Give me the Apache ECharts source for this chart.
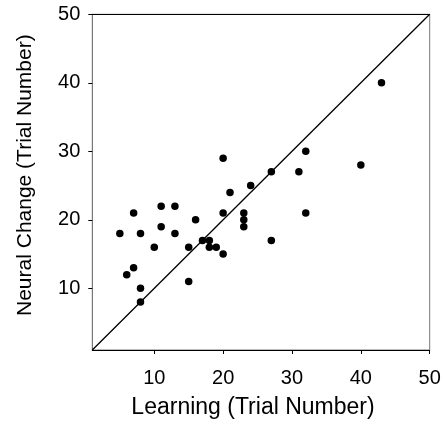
<!DOCTYPE html>
<html>
<head>
<meta charset="utf-8">
<script src="https://cdn.jsdelivr.net/npm/echarts@6/dist/echarts.min.js"></script>
<style>html,body{margin:0;padding:0;background:#fff;}#c{width:444px;height:427px;}</style>
</head>
<body>
<div id="c"></div>
<script>
const learning = [5,6,7,7,8,8,8,10,11,11,13,13,15,15,16,17,18,18,19,20,20,20,21,23,23,23,24,27,27,31,32,32,40,43];
const neural   = [18,12,21,13,18,10,8,16,22,19,22,18,16,11,20,17,17,16,16,15,21,29,24,21,20,19,25,27,17,27,30,21,28,40];
const tickValues = [10,20,30,40,50];
const diagonal = [[1,1],[50,50]];
const points = learning.map((x,i)=>[x,neural[i]]);
const font = 'Liberation Sans, Arial, sans-serif';
const chart = echarts.init(document.getElementById('c'));
chart.setOption({
  animation:false,
  grid:{left:92.3,right:14.3,top:14.3,bottom:77,show:true,borderColor:'#777',borderWidth:1},
  xAxis:[{
    type:'value',min:1,max:50,
    name:'Learning (Trial Number)',nameLocation:'middle',nameGap:46,
    nameTextStyle:{fontSize:23,fontFamily:font,color:'#000',padding:[0,16,0,0]},
    axisLine:{show:true,lineStyle:{color:'#000',width:1}},
    axisTick:{show:true,inside:false,length:4,customValues:tickValues,lineStyle:{color:'#000'}},
    axisLabel:{customValues:tickValues,margin:18,fontSize:20,fontFamily:font,color:'#000'},
    splitLine:{show:false}
  },{
    type:'value',min:1,max:50,position:'top',
    axisLine:{show:true,lineStyle:{color:'#000',width:1}},
    axisTick:{show:false},axisLabel:{show:false},splitLine:{show:false}
  }],
  yAxis:{
    type:'value',min:1,max:50,
    name:'Neural Change (Trial Number)',nameLocation:'middle',nameGap:57,
    nameTextStyle:{fontSize:21,fontFamily:font,color:'#000',padding:[0,0,0,14]},
    axisLine:{show:true,lineStyle:{color:'#777',width:1}},
    axisTick:{show:true,inside:false,length:4,customValues:tickValues,lineStyle:{color:'#000'}},
    axisLabel:{customValues:tickValues,margin:12,fontSize:20,fontFamily:font,color:'#000'},
    splitLine:{show:false}
  },
  series:[{
    type:'line',data:diagonal,symbol:'none',silent:true,
    lineStyle:{color:'#000',width:1.3}
  },{
    type:'scatter',data:points,symbol:'circle',symbolSize:7.5,
    itemStyle:{color:'#000',opacity:1}
  }]
});
</script>
</body>
</html>
